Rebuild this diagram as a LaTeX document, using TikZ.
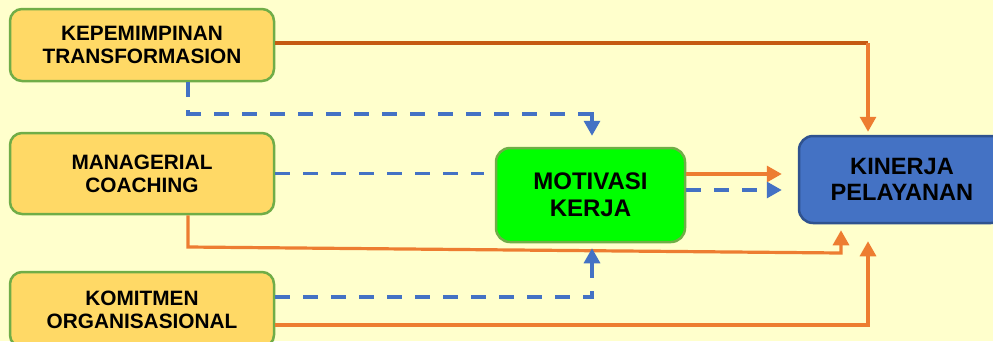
\documentclass[tikz,border=0pt]{standalone}
\usepackage{fontspec}
\setmainfont{Liberation Sans}
\usetikzlibrary{arrows.meta}
\definecolor{bgyel}{HTML}{FFFFCC}
\definecolor{boxyel}{HTML}{FFD966}
\definecolor{boxgreen}{HTML}{70AD47}
\definecolor{brightgreen}{HTML}{00FF00}
\definecolor{kinblue}{HTML}{4472C4}
\definecolor{kinborder}{HTML}{2F528F}
\definecolor{lineblue}{HTML}{4472C4}
\definecolor{lineorange}{HTML}{ED7D31}
\definecolor{darkorange}{HTML}{C55A11}
\tikzset{
  inbox/.style={draw=boxgreen, line width=2.5pt, fill=boxyel, rounded corners=12pt,
    minimum width=264pt, align=center, inner sep=0pt,
    font=\fontsize{20.8}{23}\selectfont\bfseries},
  motbox/.style={draw=boxgreen, line width=2.5pt, fill=brightgreen, rounded corners=14pt,
    minimum width=189pt, minimum height=94pt, align=center, inner sep=0pt,
    font=\fontsize{24}{27}\selectfont\bfseries},
  kinbox/.style={draw=kinborder, line width=2.5pt, fill=kinblue, rounded corners=14pt,
    minimum width=206pt, minimum height=87pt, align=center, inner sep=0pt,
    font=\fontsize{23.6}{26}\selectfont\bfseries},
  oline/.style={draw=lineorange, line width=3.2pt},
  doline/.style={draw=darkorange, line width=3.2pt},
  bdash/.style={draw=lineblue, line width=3.2pt, dash pattern=on 15pt off 13pt},
  otip/.style={-{Triangle[length=15pt,width=16pt]}},
}
\begin{document}
\begin{tikzpicture}[x=1pt,y=-1pt]
\fill[bgyel] (0,0) rectangle (993,341);
\useasboundingbox (0,0) rectangle (993,341);
\clip (0,0) rectangle (993,341);

\node[inbox, minimum height=72pt] (k1) at (142,45) {KEPEMIMPINAN\\TRANSFORMASION};
\node[inbox, minimum height=81pt] (mg) at (142,173.5) {MANAGERIAL\\COACHING};
\node[inbox, minimum height=75pt] (km) at (142,309.5) {KOMITMEN\\ORGANISASIONAL};
\node[motbox] (mot) at (590.5,195) {MOTIVASI\\KERJA};
\node[kinbox] (kin) at (902,179.5) {KINERJA\\PELAYANAN};

% Kepemimpinan -> Kinerja (orange)
\coordinate (t1) at (868,43);
\draw[doline] ([yshift=2pt]k1.east) -- (t1);
\draw[oline, otip, shorten >=3pt] (t1) -- (t1 |- kin.north);

% Kepemimpinan -> Motivasi (blue dashed)
\coordinate (b0) at ([xshift=46pt]k1.south);
\coordinate (b1) at (188,114);
\coordinate (b2) at (592,114);
\draw[bdash] (b0) -- ([yshift=1.6pt]b1);
\draw[bdash] ([xshift=-1.6pt]b1) -- ([xshift=1.6pt]b2);
\draw[bdash, otip, shorten >=11pt] ([yshift=1.6pt]b2) -- (b2 |- mot.north);

% Managerial -> Motivasi (blue dashed)
\draw[bdash, shorten >=11pt] (mg.east) -- (mg.east -| mot.west);

% Managerial -> Kinerja (orange)
\coordinate (m1) at (188,247);
\coordinate (m2) at (841,253);
\draw[oline, otip, shorten >=6pt] ([xshift=46pt]mg.south) -- (m1) -- (m2) -- (m2 |- kin.south);

% Komitmen -> Motivasi (blue dashed)
\coordinate (c1) at (592,297);
\draw[bdash, otip, shorten >=5pt] ([yshift=12.5pt]km.east) -- (c1) -- (c1 |- mot.south);

% Komitmen -> Kinerja (orange)
\coordinate (d1) at (868,325);
\draw[oline, otip, shorten >=17pt] ([yshift=-15.5pt]km.east) -- (d1) -- (d1 |- kin.south);

% Motivasi -> Kinerja
\draw[oline, otip, shorten >=16pt] ([yshift=21pt]mot.east) -- ([yshift=21pt]mot.east -| kin.west);
\draw[bdash, otip, shorten >=16pt] ([yshift=5pt]mot.east) -- ([yshift=5pt]mot.east -| kin.west);
\end{tikzpicture}
\end{document}
